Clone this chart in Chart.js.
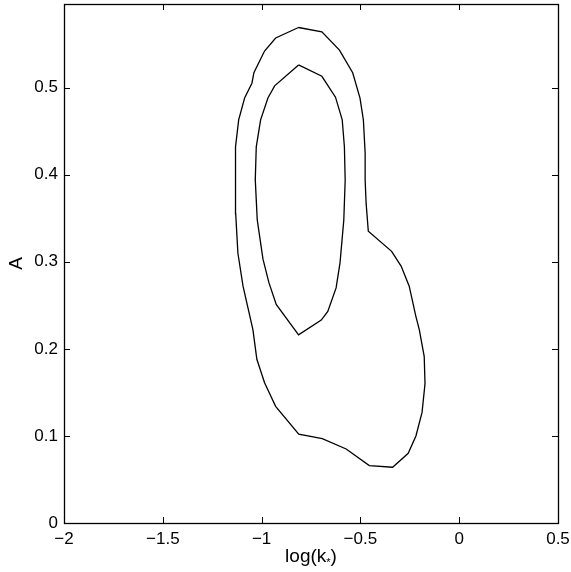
<!DOCTYPE html>
<html>
<head>
<meta charset="utf-8">
<script src="https://cdn.jsdelivr.net/npm/chart.js@4/dist/chart.umd.min.js"></script>
<style>
  body { margin: 0; background: #fff; }
  #wrap { width: 571px; height: 572px; }
</style>
</head>
<body>
<div id="wrap"><canvas id="contourChart" width="571" height="572"></canvas></div>
<script>
// Contour data (log(k*) vs A)
const outerX = [-0.813, -0.695, -0.606, -0.539, -0.502, -0.485, -0.476, -0.476, -0.471, -0.460,
                -0.342, -0.294, -0.253, -0.219, -0.202, -0.177, -0.173, -0.188, -0.219, -0.258,
                -0.337, -0.455, -0.572, -0.693, -0.812, -0.929, -0.985, -1.024, -1.044, -1.094,
                -1.120, -1.131, -1.133, -1.131, -1.116, -1.086, -1.049, -1.039, -0.985, -0.929, -0.813];
const outerY = [0.569, 0.564, 0.543, 0.517, 0.488, 0.463, 0.425, 0.394, 0.367, 0.335,
                0.312, 0.295, 0.272, 0.237, 0.222, 0.191, 0.160, 0.127, 0.100, 0.080,
                0.064, 0.066, 0.085, 0.097, 0.102, 0.134, 0.161, 0.188, 0.222, 0.272,
                0.310, 0.355, 0.394, 0.432, 0.463, 0.488, 0.505, 0.517, 0.542, 0.557, 0.569];

const innerX = [-0.813, -0.695, -0.626, -0.592, -0.581, -0.577, -0.584, -0.603, -0.623, -0.665,
                -0.698, -0.813, -0.926, -0.963, -0.993, -1.022, -1.032, -1.027, -1.005, -0.968,
                -0.934, -0.813];
const innerY = [0.526, 0.513, 0.489, 0.463, 0.432, 0.394, 0.348, 0.299, 0.270, 0.243,
                0.233, 0.216, 0.251, 0.276, 0.303, 0.348, 0.394, 0.432, 0.463, 0.488,
                0.502, 0.526];

const xTicks = [-2, -1.5, -1, -0.5, 0, 0.5];
const yTicks = [0, 0.1, 0.2, 0.3, 0.4, 0.5];

function toPoints(xs, ys) {
    return xs.map((x, i) => ({ x: x, y: ys[i] }));
}

// Format tick with a real minus sign
function fmt(v) {
    const s = String(Math.round(v * 10) / 10);
    return s.replace('-', '\u2212');
}

const FONT = 'Liberation Sans, Arial, Helvetica, sans-serif';

// Box around the plot, inward ticks on all sides, axis titles
const framePlugin = {
    id: 'frame',
    afterDraw(chart) {
        const ctx = chart.ctx;
        const a = chart.chartArea;
        const xs = chart.scales.x, ys = chart.scales.y;
        const len = 6;
        ctx.save();
        ctx.strokeStyle = '#000';
        ctx.lineWidth = 1;
        ctx.beginPath();
        xTicks.forEach(v => {
            const px = Math.round(xs.getPixelForValue(v)) + 0.5;
            ctx.moveTo(px, a.bottom); ctx.lineTo(px, a.bottom - len);
            ctx.moveTo(px, a.top); ctx.lineTo(px, a.top + len);
        });
        yTicks.forEach(v => {
            const py = Math.round(ys.getPixelForValue(v)) + 0.5;
            ctx.moveTo(a.left, py); ctx.lineTo(a.left + len, py);
            ctx.moveTo(a.right, py); ctx.lineTo(a.right - len, py);
        });
        ctx.stroke();
        ctx.lineWidth = 1.3;
        ctx.strokeRect(Math.round(a.left) + 0.5, Math.round(a.top) + 0.5,
                       Math.round(a.right - a.left), Math.round(a.bottom - a.top));

        ctx.fillStyle = '#000';
        ctx.textBaseline = 'alphabetic';

        // x axis title: log(k*)
        const cx = (a.left + a.right) / 2;
        const by = 562;
        ctx.font = '19px ' + FONT;
        const w1 = ctx.measureText('log(k').width;
        const w3 = ctx.measureText(')').width;
        ctx.font = '11px ' + FONT;
        const w2 = ctx.measureText('*').width;
        const x0 = cx - (w1 + w2 + w3) / 2;
        ctx.textAlign = 'left';
        ctx.font = '19px ' + FONT;
        ctx.fillText('log(k', x0, by);
        ctx.font = '11px ' + FONT;
        ctx.fillText('*', x0 + w1, by + 4);
        ctx.font = '19px ' + FONT;
        ctx.fillText(')', x0 + w1 + w2, by);

        // y axis title: A
        ctx.translate(22, (a.top + a.bottom) / 2);
        ctx.rotate(-Math.PI / 2);
        ctx.textAlign = 'center';
        ctx.font = '19px ' + FONT;
        ctx.fillText('A', 0, 0);
        ctx.restore();
    }
};

const lineStyle = {
    showLine: true,
    fill: false,
    borderColor: '#000',
    borderWidth: 1.3,
    pointRadius: 0,
    tension: 0
};

new Chart(document.getElementById('contourChart'), {
    type: 'scatter',
    data: {
        datasets: [
            Object.assign({ label: 'outer', data: toPoints(outerX, outerY) }, lineStyle),
            Object.assign({ label: 'inner', data: toPoints(innerX, innerY) }, lineStyle)
        ]
    },
    options: {
        responsive: false,
        animation: false,
        devicePixelRatio: 1,
        layout: { padding: { top: 4, right: 13, left: 0, bottom: 0 } },
        plugins: { legend: { display: false }, tooltip: { enabled: false } },
        scales: {
            x: {
                type: 'linear',
                min: -2,
                max: 0.5,
                afterBuildTicks: s => { s.ticks = xTicks.map(v => ({ value: v })); },
                afterFit: s => {
                    s.height = 49;
                    s.paddingLeft = 0; s.paddingRight = 0;
                },
                grid: { display: false, drawTicks: false },
                border: { display: false },
                ticks: {
                    color: '#000',
                    font: { family: FONT, size: 17 },
                    padding: 6,
                    maxRotation: 0,
                    autoSkip: false,
                    callback: v => fmt(v)
                }
            },
            y: {
                type: 'linear',
                min: 0,
                max: 0.596,
                afterBuildTicks: s => { s.ticks = yTicks.map(v => ({ value: v })); },
                afterFit: s => {
                    s.width = 64;
                    s.paddingTop = 0; s.paddingBottom = 0;
                },
                grid: { display: false, drawTicks: false },
                border: { display: false },
                ticks: {
                    color: '#000',
                    font: { family: FONT, size: 17 },
                    padding: 6,
                    autoSkip: false,
                    callback: v => fmt(v)
                }
            }
        }
    },
    plugins: [framePlugin]
});
</script>
</body>
</html>
